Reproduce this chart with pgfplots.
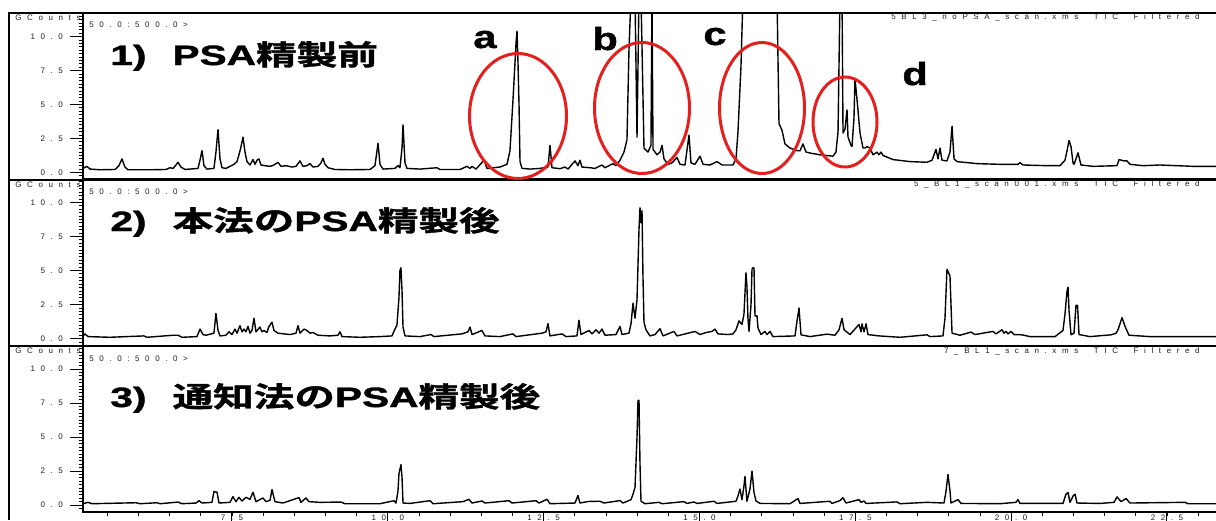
\documentclass[border=0pt]{standalone}
\usepackage{graphicx}
\usepackage{fontspec}
\usepackage{pgfplots}
\pgfplotsset{compat=1.18}
\setmainfont{Liberation Sans}
\newfontfamily\cjkbold{Noto Sans CJK JP Bold}[FakeBold=1.2]
\newfontfamily\heavylatin{Liberation Sans Bold}[FakeBold=1.2]
\newfontfamily\spacedsans{Liberation Sans}[LetterSpace=70]
\definecolor{ringred}{RGB}{228,32,30}
\definecolor{labelgray}{RGB}{30,30,30}

\newcommand\tinylabel{\spacedsans\fontsize{4}{4.5}\selectfont\color{labelgray}}
\newcommand\panelhead[1]{\scalebox{1.45}[1]{\fontsize{14}{16}\selectfont\heavylatin #1}}
\newcommand\peakletter[1]{\scalebox{1.3}[1]{\fontsize{16}{18}\selectfont\heavylatin #1}}

\pgfplotsset{
  gcpanel/.style={
    scale only axis, width=567.5pt,
    anchor=south west,
    xmin=5.110, xmax=23.319,
    axis line style={line width=0.6pt},
    ytick={0,2.5,5,7.5,10},
    yticklabels={0.0,2.5,5.0,7.5,10.0},
    minor ytick={-0.25,0.25,0.5,...,11.5},
    ytick pos=left, xtick pos=bottom,
    tick align=outside,
    major tick length=6.5pt,
    minor tick length=2.2pt,
    every tick/.style={black, line width=0.5pt},
    every minor tick/.style={black, line width=0.4pt},
    yticklabel style={font=\tinylabel},
    xtick=\empty,
    clip=true,
  },
  trace/.style={black, line width=0.7pt, line join=round, mark=none},
}

\begin{document}
\begin{tikzpicture}

% ---------- 1) before PSA clean-up ----------
\begin{axis}[gcpanel, at={(41.5pt,-89.5pt)}, height=83pt, ymin=-0.48, ymax=11.73]
\addplot[trace] coordinates {
(5.110,0.30)(5.174,0.45)(5.222,0.25)(5.382,0.20)(5.623,0.22)(5.687,0.50)(5.735,1.00)(5.783,0.40)(5.832,0.20)(6.185,0.20)(6.441,0.22)(6.505,0.35)(6.554,0.30)(6.602,0.55)(6.634,0.75)(6.682,0.40)(6.746,0.22)(6.955,0.30)(6.987,0.90)(7.019,1.60)(7.051,0.50)(7.099,0.25)(7.211,0.30)(7.243,1.50)(7.276,3.15)(7.308,1.00)(7.340,0.35)(7.404,0.30)(7.468,0.45)(7.532,0.60)(7.580,0.80)(7.612,1.30)(7.645,1.90)(7.677,2.60)(7.709,1.50)(7.741,0.80)(7.789,0.55)(7.837,0.95)(7.869,0.60)(7.901,0.90)(7.933,1.00)(7.965,0.55)(8.030,0.50)(8.110,0.45)(8.174,0.55)(8.238,0.75)(8.286,0.45)(8.367,0.50)(8.463,0.40)(8.527,0.45)(8.591,0.85)(8.639,0.45)(8.703,0.50)(8.752,0.65)(8.800,0.40)(8.880,0.45)(8.928,0.70)(8.960,1.05)(8.992,0.60)(9.040,0.35)(9.153,0.22)(9.393,0.20)(9.714,0.22)(9.794,0.50)(9.843,2.15)(9.875,0.60)(9.923,0.25)(10.115,0.30)(10.163,0.50)(10.195,0.35)(10.228,1.80)(10.244,3.50)(10.276,0.70)(10.308,0.30)(10.516,0.25)(10.789,0.35)(10.837,0.22)(11.158,0.22)(11.270,0.45)(11.319,0.30)(11.351,0.45)(11.415,0.25)(11.543,0.90)(11.591,0.30)(11.800,0.40)(11.912,0.60)(11.960,1.60)(12.008,5.30)(12.057,9.50)(12.073,10.40)(12.089,8.00)(12.105,5.00)(12.121,0.80)(12.153,0.30)(12.281,0.25)(12.442,0.30)(12.570,0.40)(12.602,2.00)(12.634,0.35)(12.762,0.28)(12.843,0.40)(12.891,0.25)(13.003,0.85)(13.051,0.50)(13.083,0.90)(13.115,0.40)(13.244,0.35)(13.324,0.30)(13.436,0.55)(13.484,0.35)(13.613,0.65)(13.661,0.50)(13.725,0.90)(13.789,1.50)(13.837,2.40)(13.869,9.00)(13.902,13.0)(13.966,13.0)(13.998,2.60)(14.030,13.0)(14.062,13.0)(14.110,1.80)(14.174,1.50)(14.222,2.00)(14.238,13.0)(14.255,1.70)(14.319,1.30)(14.367,1.50)(14.399,2.00)(14.431,1.00)(14.495,0.60)(14.559,0.70)(14.640,1.10)(14.688,0.60)(14.768,0.55)(14.832,2.75)(14.864,0.70)(14.928,0.60)(15.009,1.20)(15.057,0.60)(15.169,0.55)(15.281,0.80)(15.362,0.55)(15.538,0.55)(15.586,1.00)(15.618,3.00)(15.666,7.80)(15.698,13.0)(16.244,13.0)(16.276,3.60)(16.324,3.10)(16.372,2.10)(16.452,1.80)(16.565,1.60)(16.613,1.60)(16.661,2.10)(16.709,1.50)(16.805,1.40)(16.934,1.30)(17.142,1.20)(17.190,1.50)(17.223,3.00)(17.255,13.0)(17.287,13.0)(17.303,2.90)(17.335,3.20)(17.367,4.60)(17.383,2.60)(17.431,2.00)(17.447,1.90)(17.479,4.00)(17.495,6.90)(17.527,5.40)(17.576,2.90)(17.624,1.80)(17.656,1.80)(17.688,1.90)(17.736,1.80)(17.784,1.30)(17.848,1.50)(17.880,1.30)(17.912,1.50)(17.945,1.25)(18.105,0.95)(18.378,0.80)(18.650,0.75)(18.731,0.90)(18.795,1.70)(18.827,1.00)(18.859,1.80)(18.891,0.90)(18.971,0.85)(19.019,1.50)(19.052,3.40)(19.084,1.00)(19.132,0.80)(19.453,0.65)(19.822,0.60)(20.110,0.60)(20.143,0.72)(20.191,0.55)(20.576,0.50)(20.784,0.50)(20.864,0.90)(20.897,1.60)(20.929,2.35)(20.961,1.90)(20.993,0.70)(21.009,0.60)(21.041,1.00)(21.073,1.45)(21.121,0.55)(21.314,0.45)(21.699,0.50)(21.731,0.95)(21.811,0.85)(21.859,0.85)(21.907,0.60)(22.116,0.50)(22.389,0.55)(22.918,0.45)(23.319,0.45)
};
\end{axis}

% ---------- 2) after PSA clean-up, this method ----------
\begin{axis}[gcpanel, at={(41.5pt,-173pt)}, height=83.5pt, ymin=-0.54, ymax=11.71]
\addplot[trace] coordinates {
(5.110,0.15)(5.142,0.35)(5.190,0.15)(5.543,0.10)(6.088,0.20)(6.136,0.10)(6.553,0.25)(6.634,0.25)(6.698,0.10)(6.939,0.15)(6.987,0.70)(7.035,0.30)(7.083,0.25)(7.211,0.40)(7.243,1.85)(7.276,0.60)(7.308,0.20)(7.404,0.25)(7.452,0.50)(7.500,0.30)(7.548,0.70)(7.580,0.40)(7.628,0.95)(7.661,0.50)(7.693,0.70)(7.725,0.50)(7.757,0.90)(7.789,0.40)(7.821,0.60)(7.853,1.50)(7.885,0.50)(7.949,0.85)(7.981,0.50)(8.013,0.60)(8.062,0.45)(8.094,0.90)(8.142,1.20)(8.174,0.60)(8.238,0.40)(8.334,0.35)(8.431,0.30)(8.527,0.40)(8.559,0.95)(8.591,0.40)(8.655,0.70)(8.703,0.60)(8.752,0.40)(8.800,0.45)(8.880,0.25)(9.072,0.20)(9.201,0.25)(9.233,0.50)(9.265,0.15)(9.554,0.10)(9.875,0.15)(10.067,0.20)(10.115,0.70)(10.147,1.00)(10.179,3.00)(10.195,5.00)(10.211,5.20)(10.228,3.50)(10.244,0.85)(10.276,0.20)(10.516,0.15)(10.693,0.30)(10.741,0.15)(11.190,0.35)(11.286,0.50)(11.319,0.85)(11.351,0.30)(11.511,0.60)(11.559,0.20)(11.800,0.15)(12.008,0.35)(12.057,0.15)(12.474,0.40)(12.538,0.50)(12.570,1.10)(12.602,0.20)(12.795,0.35)(12.859,0.15)(13.035,0.20)(13.067,1.35)(13.099,0.30)(13.228,0.60)(13.276,0.35)(13.340,0.65)(13.388,0.40)(13.436,0.70)(13.484,0.25)(13.661,0.30)(13.725,0.90)(13.757,0.30)(13.869,0.40)(13.902,1.10)(13.934,2.60)(13.966,1.50)(13.998,2.85)(14.030,8.00)(14.046,9.60)(14.062,8.50)(14.078,9.40)(14.094,4.50)(14.110,1.20)(14.142,0.65)(14.206,0.20)(14.287,0.30)(14.367,0.73)(14.415,0.20)(14.591,0.53)(14.640,0.20)(14.928,0.53)(15.009,0.30)(15.105,0.45)(15.201,0.53)(15.249,0.70)(15.297,0.35)(15.458,0.30)(15.538,0.35)(15.586,0.65)(15.634,1.30)(15.682,1.04)(15.714,1.80)(15.746,4.83)(15.762,3.80)(15.778,1.50)(15.795,0.53)(15.827,2.50)(15.843,5.10)(15.859,5.20)(15.875,5.20)(15.891,1.67)(15.923,1.67)(15.939,0.78)(15.987,0.30)(16.051,0.53)(16.083,0.30)(16.132,0.53)(16.180,0.15)(16.533,0.20)(16.565,1.29)(16.597,2.25)(16.629,0.28)(16.773,0.15)(17.046,0.33)(17.174,0.25)(17.239,0.65)(17.287,1.49)(17.319,0.65)(17.415,0.30)(17.560,1.04)(17.592,0.50)(17.608,1.09)(17.640,0.50)(17.672,1.09)(17.704,0.30)(17.880,0.20)(18.217,0.10)(18.650,0.28)(18.699,0.15)(18.907,0.20)(18.939,1.50)(18.971,5.09)(19.019,4.60)(19.052,0.40)(19.180,0.25)(19.356,0.48)(19.420,0.30)(19.709,0.53)(19.757,0.35)(19.854,0.65)(19.886,0.40)(19.918,0.53)(19.950,0.35)(19.998,0.53)(20.046,0.30)(20.175,0.28)(20.303,0.15)(20.704,0.15)(20.832,0.60)(20.864,1.80)(20.897,3.50)(20.913,3.77)(20.929,2.05)(20.961,0.28)(21.009,0.40)(21.041,2.45)(21.065,2.45)(21.089,0.30)(21.266,0.15)(21.602,0.28)(21.683,0.40)(21.715,0.65)(21.779,1.54)(21.827,0.90)(21.891,0.25)(22.228,0.15)(23.319,0.15)
};
\end{axis}

% ---------- 3) after PSA clean-up, official method ----------
\begin{axis}[gcpanel, at={(41.5pt,-256pt)}, height=83pt, ymin=-0.51, ymax=11.69,
  xtick={5,7.5,10,12.5,15,17.5,20,22.5,25},
  xticklabels={5.0,7.5,10.0,12.5,15.0,17.5,20.0,22.5,25.0},
  minor xtick={5.5,6,...,23},
  xticklabel style={font=\tinylabel, yshift=8.5pt},
]
\addplot[trace] coordinates {
(5.110,0.10)(5.190,0.20)(5.254,0.10)(5.960,0.17)(6.024,0.10)(6.297,0.17)(6.345,0.10)(6.634,0.22)(6.698,0.10)(6.923,0.15)(6.971,0.32)(7.019,0.15)(7.179,0.20)(7.211,1.00)(7.243,0.95)(7.260,0.95)(7.292,0.15)(7.468,0.20)(7.516,0.62)(7.564,0.25)(7.612,0.57)(7.661,0.30)(7.725,0.57)(7.789,0.42)(7.837,0.94)(7.885,0.25)(7.997,0.52)(8.046,0.25)(8.110,0.35)(8.142,1.14)(8.190,0.25)(8.318,0.15)(8.575,0.55)(8.607,0.20)(8.687,0.52)(8.735,0.25)(8.912,0.20)(9.249,0.22)(9.313,0.10)(9.875,0.10)(10.099,0.32)(10.131,0.15)(10.163,1.00)(10.179,2.30)(10.211,2.97)(10.228,2.05)(10.244,0.15)(10.356,0.12)(10.677,0.32)(10.725,0.10)(11.206,0.25)(11.302,0.42)(11.351,0.15)(11.511,0.30)(11.559,0.15)(11.944,0.32)(11.992,0.15)(12.377,0.32)(12.425,0.15)(12.554,0.42)(12.602,0.10)(13.003,0.15)(13.051,0.70)(13.083,0.15)(13.228,0.27)(13.404,0.28)(13.468,0.15)(13.725,0.33)(13.773,0.15)(13.902,0.40)(13.934,0.80)(13.966,1.30)(13.998,5.00)(14.014,7.70)(14.030,7.70)(14.046,3.00)(14.062,0.28)(14.126,0.10)(14.351,0.20)(14.399,0.10)(14.752,0.25)(14.800,0.12)(14.912,0.23)(14.960,0.12)(15.233,0.28)(15.281,0.12)(15.586,0.28)(15.618,0.66)(15.650,1.18)(15.682,0.40)(15.714,1.40)(15.730,2.10)(15.762,0.28)(15.811,1.20)(15.843,2.50)(15.875,0.92)(15.907,0.30)(15.971,0.12)(16.452,0.10)(16.581,0.48)(16.613,0.12)(17.094,0.28)(17.126,0.12)(17.255,0.33)(17.303,0.54)(17.351,0.15)(17.560,0.40)(17.592,0.20)(17.640,0.30)(17.672,0.12)(18.169,0.23)(18.217,0.10)(18.650,0.20)(18.923,0.15)(18.955,1.00)(18.987,2.25)(19.019,1.05)(19.035,0.15)(19.148,0.40)(19.196,0.12)(19.822,0.10)(20.078,0.20)(20.110,0.40)(20.142,0.12)(20.832,0.12)(20.880,0.80)(20.913,0.92)(20.945,0.20)(20.993,0.66)(21.025,0.80)(21.057,0.15)(21.426,0.12)(21.651,0.20)(21.699,0.60)(21.763,0.25)(21.843,0.48)(21.907,0.15)(22.790,0.20)(22.838,0.10)(23.319,0.10)
};
\end{axis}

% ---------- frame, headings and marked regions (1 unit = 0.5pt) ----------
\begin{scope}[x=0.5pt, y=-0.5pt]
  \draw[line width=1pt] (9,12.5) -- (1216,12.5);
  \draw[line width=1pt] (9,179.5) -- (1216,179.5);
  \draw[line width=1pt] (9,346) -- (1216,346);
  \draw[line width=1pt] (9,12) -- (9,520);

  \foreach \top/\file in {12.5/5BL3\_noPSA\_scan.xms\ \ TIC\ \ Filtered,
                          179.5/5\_BL1\_scan001.xms\ \ TIC\ \ Filtered,
                          346/7\_BL1\_scan.xms\ \ TIC\ \ Filtered}{
    \node[anchor=west, inner sep=0, font=\tinylabel] at (15,\top+5) {GCounts};
    \node[anchor=west, inner sep=0, font=\tinylabel] at (89,\top+12.5) {50.0:500.0>};
    \node[anchor=east, inner sep=0, font=\tinylabel] at (1200,\top+5) {\file};
  }

  \node[anchor=base west, inner sep=0] at (110,65)
    {\panelhead{1)\hspace{9pt}PSA{\cjkbold 精製前}}};
  \node[anchor=base west, inner sep=0] at (110,231)
    {\panelhead{2)\hspace{9pt}{\cjkbold 本法の}PSA{\cjkbold 精製後}}};
  \node[anchor=base west, inner sep=0] at (110,407)
    {\panelhead{3)\hspace{9pt}{\cjkbold 通知法の}PSA{\cjkbold 精製後}}};

  \node[anchor=base west, inner sep=0] at (473,48) {\peakletter{a}};
  \node[anchor=base west, inner sep=0] at (592,50) {\peakletter{b}};
  \node[anchor=base west, inner sep=0] at (703,45) {\peakletter{c}};
  \node[anchor=base west, inner sep=0] at (902,85) {\peakletter{d}};

  \draw[ringred, line width=1.5pt] (518,116) ellipse [x radius=48.5, y radius=62.5];
  \draw[ringred, line width=1.5pt] (642,108) ellipse [x radius=47.5, y radius=65.5];
  \draw[ringred, line width=1.5pt] (762,108) ellipse [x radius=42.5, y radius=65.5];
  \draw[ringred, line width=1.5pt] (845,122) ellipse [x radius=32, y radius=45];
\end{scope}

\pgfresetboundingbox
\path[use as bounding box] (0,0) rectangle (608pt,-260pt);
\end{tikzpicture}
\end{document}
